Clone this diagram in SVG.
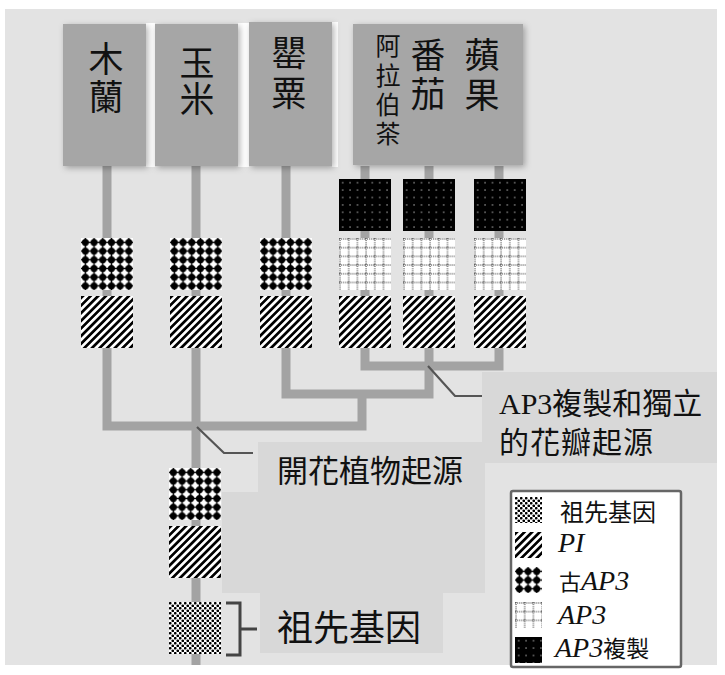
<svg xmlns="http://www.w3.org/2000/svg" xmlns:xlink="http://www.w3.org/1999/xlink" width="725" height="675" viewBox="0 0 725 675">
<style>
.hdr{fill:#a6a6a6;filter:url(#sh)}
.sep{fill:#ffffff}
.lbl{fill:#d8d8d8}
.br{fill:none;stroke:#a3a3a3;stroke-width:9;stroke-linejoin:miter}
.lead{fill:none;stroke:#555;stroke-width:2.2}
.t{font-family:"Liberation Serif","Noto Sans CJK TC",serif;fill:#111}
.hc{font-size:35px;text-anchor:middle}
.hs{font-size:25px;text-anchor:middle}
.it{font-style:italic}
</style>
<defs>
<filter id="sh" x="-10%" y="-10%" width="125%" height="125%">
<feDropShadow dx="2" dy="2" stdDeviation="3" flood-color="#000" flood-opacity="0.3"/>
</filter>
<pattern id="pOld" width="8.7" height="8.7" patternUnits="userSpaceOnUse">
<rect width="8.7" height="8.7" fill="#fff"/><circle cx="4.35" cy="4.35" r="3.5" fill="#000"/><path d="M4.35 0V8.7M0 4.35H8.7" stroke="#000" stroke-width="1.6"/>
</pattern>
<pattern id="pPI" width="5.4" height="5.4" patternUnits="userSpaceOnUse" patternTransform="rotate(45)">
<rect width="5.4" height="5.4" fill="#fff"/><rect width="2.7" height="5.4" fill="#000"/>
</pattern>
<pattern id="pAP3" width="8.7" height="8.7" patternUnits="userSpaceOnUse">
<rect width="8.7" height="8.7" fill="#fff"/><path d="M1 0V8.7M0 1H8.7" stroke="#222" stroke-width="1" stroke-dasharray="1 1"/>
</pattern>
<pattern id="pDup" width="7.4" height="7.4" patternUnits="userSpaceOnUse">
<rect width="7.4" height="7.4" fill="#000"/><circle cx="3.7" cy="3.7" r="0.75" fill="#bbb"/>
</pattern>
<pattern id="pAnc" width="5" height="5" patternUnits="userSpaceOnUse">
<rect width="5" height="5" fill="#fff"/><circle cx="1.25" cy="1.25" r="1.35" fill="#000"/><circle cx="3.75" cy="3.75" r="1.35" fill="#000"/>
</pattern>
<rect id="bOld" width="52" height="52" fill="url(#pOld)"/>
<rect id="bPI" width="52" height="52" fill="url(#pPI)"/>
<rect id="bAP3" width="52" height="52" fill="url(#pAP3)"/>
<rect id="bDup" width="52" height="52" fill="url(#pDup)"/>
<rect id="bAnc" width="52" height="52" fill="url(#pAnc)"/>
<rect id="sOld" width="27" height="26" fill="url(#pOld)"/>
<rect id="sPI" width="27" height="26" fill="url(#pPI)"/>
<rect id="sAP3" width="27" height="26" fill="url(#pAP3)"/>
<rect id="sDup" width="27" height="26" fill="url(#pDup)"/>
<rect id="sAnc" width="27" height="26" fill="url(#pAnc)"/>
</defs>

<rect width="725" height="675" fill="#ffffff"/>
<rect x="5" y="9" width="712" height="656" fill="#e3e3e3"/>

<!-- label panels -->
<g id="panels">
<path class="lbl" d="M482 372H717V463H482Z"/>
<path class="lbl" d="M258 442H485V593H443V653H260V593H222V492H258Z"/>
</g>

<!-- connectors -->
<g id="connectors">
<path class="br" d="M107 166V426H362V394"/>
<path class="br" d="M286 166V394H429V166"/>
<path class="br" d="M365 166V366H499V166"/>
<path class="br" d="M196 166V665"/>
<path class="lead" d="M428 366L455 396H482"/>
<path class="lead" d="M197 427L224 453H253"/>
<path fill="none" stroke="#444" stroke-width="3" d="M226 603H240V655H226M240 629H257"/>
</g>

<!-- header boxes -->
<g id="headers">
<rect class="sep" x="146" y="23" width="9" height="144"/>
<rect class="sep" x="238" y="23" width="11" height="144"/>
<rect class="sep" x="332" y="22" width="6" height="145"/>
<g id="magnolia">
<rect class="hdr" x="63" y="24" width="83" height="142"/>
<text class="t hc" x="106" y="72">木</text>
<text class="t hc" x="106" y="110">蘭</text>
</g>
<g id="maize">
<rect class="hdr" x="155" y="24" width="83" height="142"/>
<text class="t hc" x="197" y="76" font-size="33">玉</text>
<text class="t hc" x="197" y="112" font-size="33">米</text>
</g>
<g id="poppy">
<rect class="hdr" x="249" y="22" width="83" height="144"/>
<text class="t hc" x="289" y="66">罌</text>
<text class="t hc" x="289" y="106">粟</text>
</g>
<g id="eudicots">
<rect class="hdr" x="353" y="24" width="170" height="141"/>
<text class="t hs" x="388" y="55">阿</text>
<text class="t hs" x="388" y="85">拉</text>
<text class="t hs" x="388" y="114">伯</text>
<text class="t hs" x="388" y="143">茶</text>
<text class="t hc" x="428" y="68">番</text>
<text class="t hc" x="428" y="107">茄</text>
<text class="t hc" x="482" y="68">蘋</text>
<text class="t hc" x="482" y="108">果</text>
</g>
</g>

<!-- gene stacks -->
<g id="stack-magnolia">
<use href="#bOld" x="81" y="238"/><use href="#bPI" x="81" y="296"/>
</g>
<g id="stack-maize">
<use href="#bOld" x="170" y="238"/><use href="#bPI" x="170" y="296"/>
</g>
<g id="stack-poppy">
<use href="#bOld" x="260" y="238"/><use href="#bPI" x="260" y="296"/>
</g>
<g id="stack-arabidopsis">
<use href="#bDup" x="339" y="179"/><use href="#bAP3" x="339" y="238"/><use href="#bPI" x="339" y="296"/>
</g>
<g id="stack-tomato">
<use href="#bDup" x="403" y="179"/><use href="#bAP3" x="403" y="238"/><use href="#bPI" x="403" y="296"/>
</g>
<g id="stack-apple">
<use href="#bDup" x="474" y="179"/><use href="#bAP3" x="474" y="238"/><use href="#bPI" x="474" y="296"/>
</g>
<g id="stack-root">
<use href="#bOld" x="169" y="468"/><use href="#bPI" x="169" y="526"/>
</g>
<g id="ancestor">
<use href="#bAnc" x="169" y="602"/>
</g>

<!-- labels -->
<g id="label-ap3">
<text class="t" x="499" y="414" font-size="30">AP3複製和獨立</text>
<text class="t" x="499" y="453" font-size="30" letter-spacing="1">的花瓣起源</text>
</g>
<g id="label-angio">
<text class="t" x="277" y="482" font-size="31">開花植物起源</text>
</g>
<g id="label-ancestor">
<text class="t" x="277" y="641" font-size="36">祖先基因</text>
</g>

<!-- legend -->
<g id="legend">
<rect x="511" y="491" width="170" height="176" rx="2" fill="#fff" stroke="#666" stroke-width="2.5"/>
<use href="#sAnc" x="515" y="497"/>
<use href="#sPI" x="515" y="532"/>
<use href="#sOld" x="515" y="567"/>
<use href="#sAP3" x="515" y="602"/>
<use href="#sDup" x="515" y="637"/>
<text class="t" x="560" y="521" font-size="24">祖先基因</text>
<text class="t it" x="558" y="552" font-size="28">PI</text>
<text class="t" x="559" y="590" font-size="22">古<tspan class="it" font-size="28">AP3</tspan></text>
<text class="t it" x="558" y="624" font-size="28">AP3</text>
<text class="t" x="555" y="657" font-size="28"><tspan class="it">AP3</tspan><tspan font-size="23">複製</tspan></text>
</g>
</svg>
